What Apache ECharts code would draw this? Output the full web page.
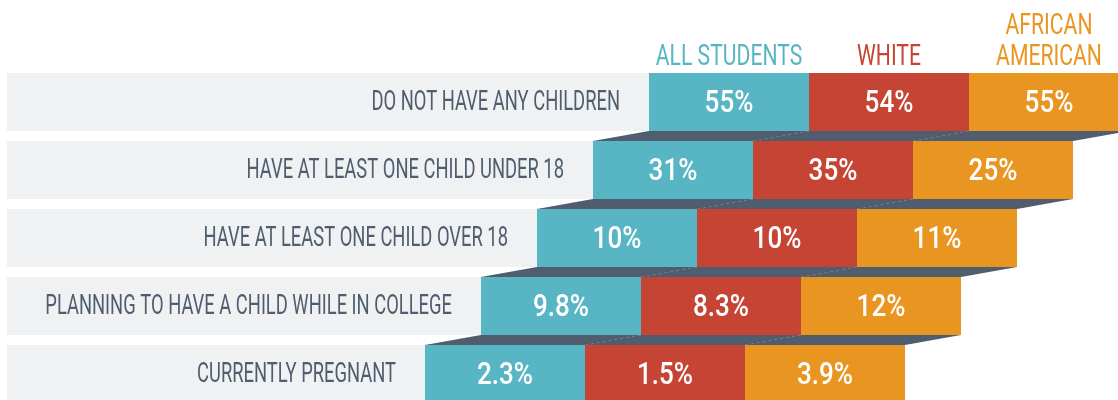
<!DOCTYPE html>
<html>
<head>
<meta charset="utf-8">
<script src="https://cdn.jsdelivr.net/npm/echarts@6/dist/echarts.min.js"></script>
<style>
  html, body { margin: 0; padding: 0; background: #fff; }
  #chart { width: 1118px; height: 400px; }
</style>
</head>
<body>
<div id="chart"></div>
<script>
// rows of the table, top to bottom
const rows = [
  'DO NOT HAVE ANY CHILDREN',
  'HAVE AT LEAST ONE CHILD UNDER 18',
  'HAVE AT LEAST ONE CHILD OVER 18',
  'PLANNING TO HAVE A CHILD WHILE IN COLLEGE',
  'CURRENTLY PREGNANT'
];
const groups = ['ALL STUDENTS', 'WHITE', 'AFRICAN\nAMERICAN'];
const allStudents = [55, 31, 10, 9.8, 2.3];
const white = [54, 35, 10, 8.3, 1.5];
const africanAmerican = [55, 25, 11, 12, 3.9];

const colors = ['#58b5c3', '#c64433', '#e89521'];
const slate = '#4f5d6e';
const band = '#f0f1f3';

// layout (x axis units = px across the grid)
const FIRST_START = 649;
const STEP = 56;
const CELL_W = 160;
const BAND_LEFT = 7;
const CELL_RATIO = 58 / 68;
const FONT = 'Roboto, "DejaVu Sans", sans-serif';

const data = rows.map((r, i) => [i, allStudents[i], white[i], africanAmerican[i]]);

function renderItem(params, api) {
  const i = api.value(0);
  const cy = api.coord([0, i])[1];
  const bandH = api.size([0, 1])[1];
  const top = cy - bandH / 2;
  const h = bandH * CELL_RATIO;
  const start = FIRST_START - STEP * i;
  const px = v => api.coord([v, i])[0];
  const children = [];

  // grey label band
  children.push({
    type: 'rect',
    shape: { x: px(BAND_LEFT), y: top, width: px(start) - px(BAND_LEFT), height: h },
    style: { fill: band }
  });
  children.push({
    type: 'text', x: px(start) - 29, y: top + h / 2 + 1, scaleX: 0.68,
    style: { text: rows[i], x: 0, y: 0, align: 'right', verticalAlign: 'middle',
      fill: slate, fontSize: 27, fontFamily: FONT }
  });

  // shadow ribbon to next row
  if (i < rows.length - 1) {
    const s2 = start - STEP;
    children.push({
      type: 'polygon',
      shape: { points: [
        [px(start), top + h], [px(start + 3 * CELL_W), top + h],
        [px(s2 + 3 * CELL_W), top + bandH], [px(s2), top + bandH]
      ] },
      style: { fill: slate }
    });
    for (let k = 1; k < 3; k++) {
      children.push({
        type: 'line',
        shape: { x1: px(start + k * CELL_W), y1: top + h, x2: px(s2 + k * CELL_W), y2: top + bandH },
        style: { stroke: 'rgba(255,255,255,0.22)', lineWidth: 1, lineDash: [3, 3] }
      });
    }
  }

  // cells
  for (let k = 0; k < 3; k++) {
    const x0 = px(start + k * CELL_W);
    const x1 = px(start + (k + 1) * CELL_W);
    const v = api.value(k + 1);
    children.push({
      type: 'rect',
      shape: { x: x0, y: top, width: x1 - x0, height: h },
      style: { fill: colors[k] }
    });
    children.push({
      type: 'text', x: (x0 + x1) / 2, y: top + h / 2 + 2, scaleX: 0.84,
      style: { text: v + '%', x: 0, y: 0, align: 'center', verticalAlign: 'middle',
        fill: '#fff', fontSize: 31, fontWeight: 500, fontFamily: FONT }
    });
    if (i === 0) {
      const lines = groups[k].split('\n').length;
      children.push({
        type: 'text', x: (x0 + x1) / 2, y: top - 15 - (lines - 1) * 31 / 2, scaleX: 0.73,
        style: { text: groups[k], x: 0, y: 0, align: 'center', verticalAlign: 'middle',
          fill: colors[k], fontSize: 29, lineHeight: 31, fontFamily: FONT }
      });
    }
  }
  return { type: 'group', children };
}

const chart = echarts.init(document.getElementById('chart'));
chart.setOption({
  animation: false,
  grid: { left: 0, right: 0, top: 73, height: 340, outerBoundsMode: 'none' },
  xAxis: { type: 'value', min: 0, max: 1118, show: false },
  yAxis: { type: 'category', data: rows, inverse: true, show: false },
  series: [{
    type: 'custom',
    renderItem,
    clip: false,
    encode: { y: 0 },
    data
  }]
});
</script>
</body>
</html>
